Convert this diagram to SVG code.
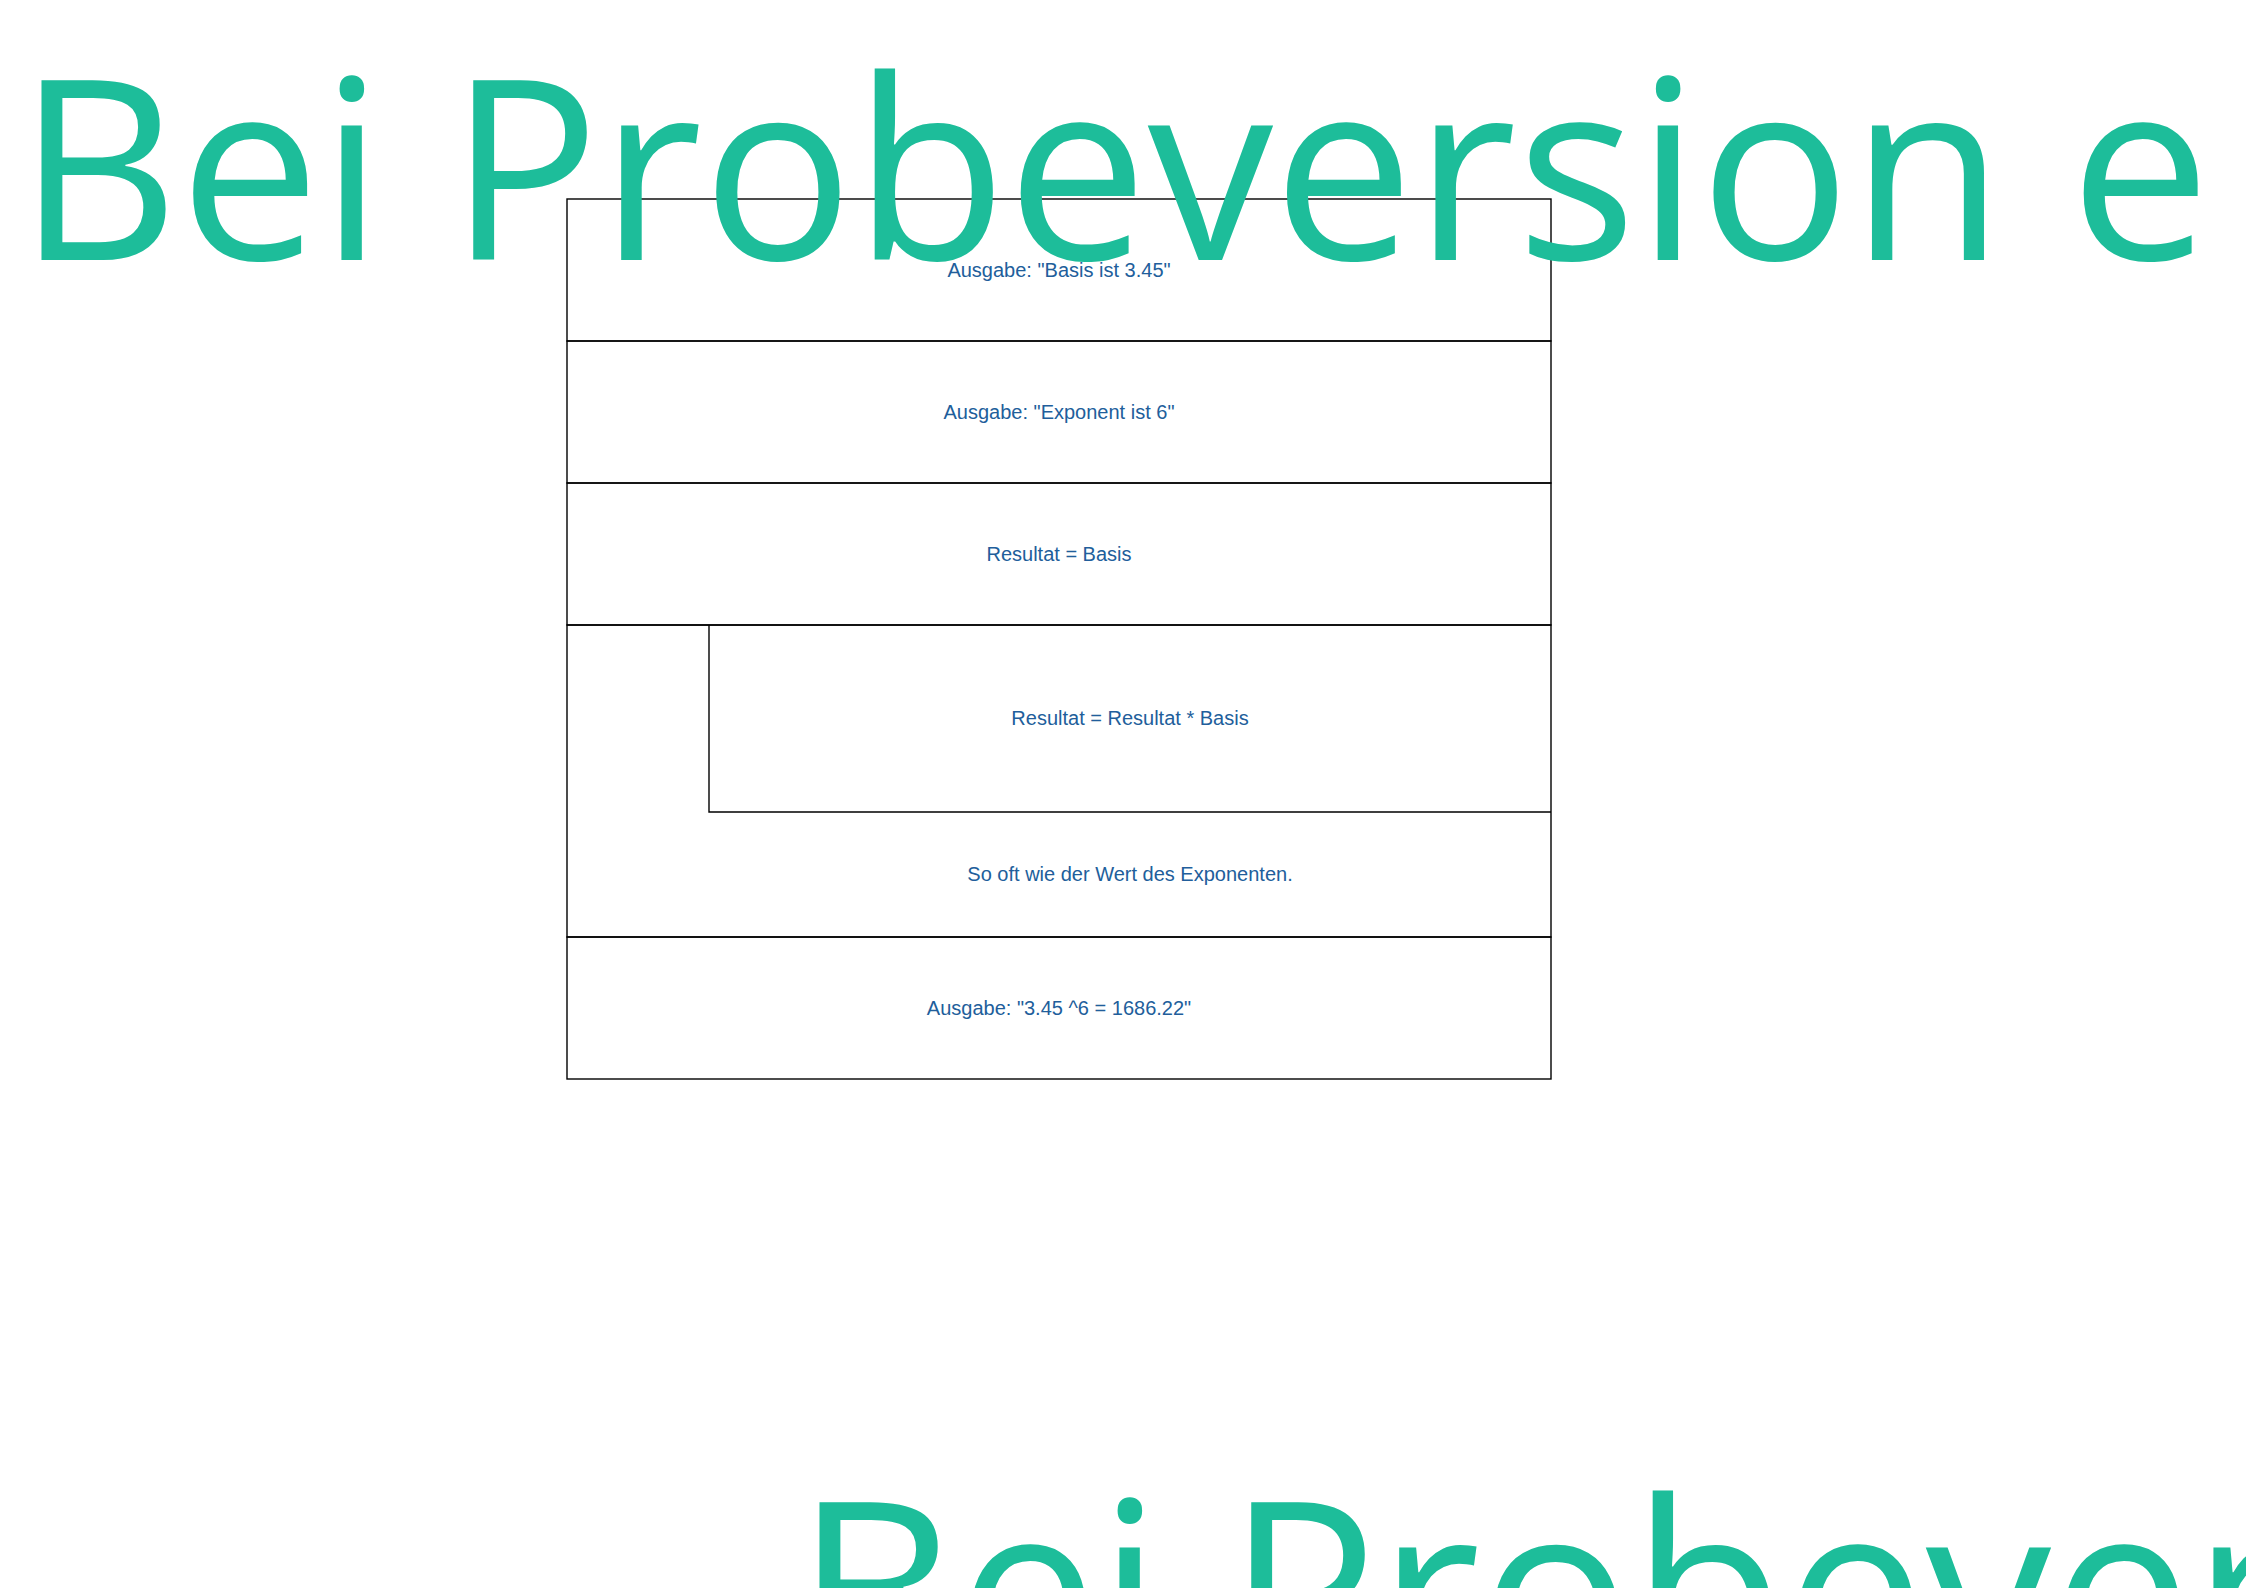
<svg xmlns="http://www.w3.org/2000/svg" width="2246" height="1588" viewBox="0 0 2246 1588">
  <style>
    .blk { fill: none; stroke: #000; stroke-width: 1.4; }
    .lbl { font-family: "Liberation Sans", Arial, sans-serif; font-size: 20px; fill: #215e9b; text-anchor: middle; }
    .wm { font-family: "Open Sans", "Noto Sans", sans-serif; font-size: 251px; fill: #1dbd9a; }
  </style>
  <rect x="0" y="0" width="2246" height="1588" fill="#ffffff"/>
  <g id="nodes">
    <g id="n1">
      <rect class="blk" x="567" y="199" width="984" height="142"/>
      <text class="lbl" x="1059" y="277">Ausgabe: "Basis ist 3.45"</text>
    </g>
    <g id="n2">
      <rect class="blk" x="567" y="341" width="984" height="142"/>
      <text class="lbl" x="1059" y="419">Ausgabe: "Exponent ist 6"</text>
    </g>
    <g id="n3">
      <rect class="blk" x="567" y="483" width="984" height="142"/>
      <text class="lbl" x="1059" y="561">Resultat = Basis</text>
    </g>
    <g id="n4">
      <path class="blk" d="M567,625 H1551 V937 H567 Z"/>
      <text class="lbl" x="1130" y="881">So oft wie der Wert des Exponenten.</text>
      <g id="n4body">
        <path class="blk" d="M709,625 V812 H1551"/>
        <text class="lbl" x="1130" y="725">Resultat = Resultat * Basis</text>
      </g>
    </g>
    <g id="n5">
      <rect class="blk" x="567" y="937" width="984" height="142"/>
      <text class="lbl" x="1059" y="1015">Ausgabe: "3.45 ^6 = 1686.22"</text>
    </g>
  </g>
  <g id="connectors"></g>
  <g id="watermark">
    <text class="wm" x="17" y="260">Bei Probeversion e</text>
    <text class="wm" x="795" y="1682">Bei Probever</text>
  </g>
</svg>
